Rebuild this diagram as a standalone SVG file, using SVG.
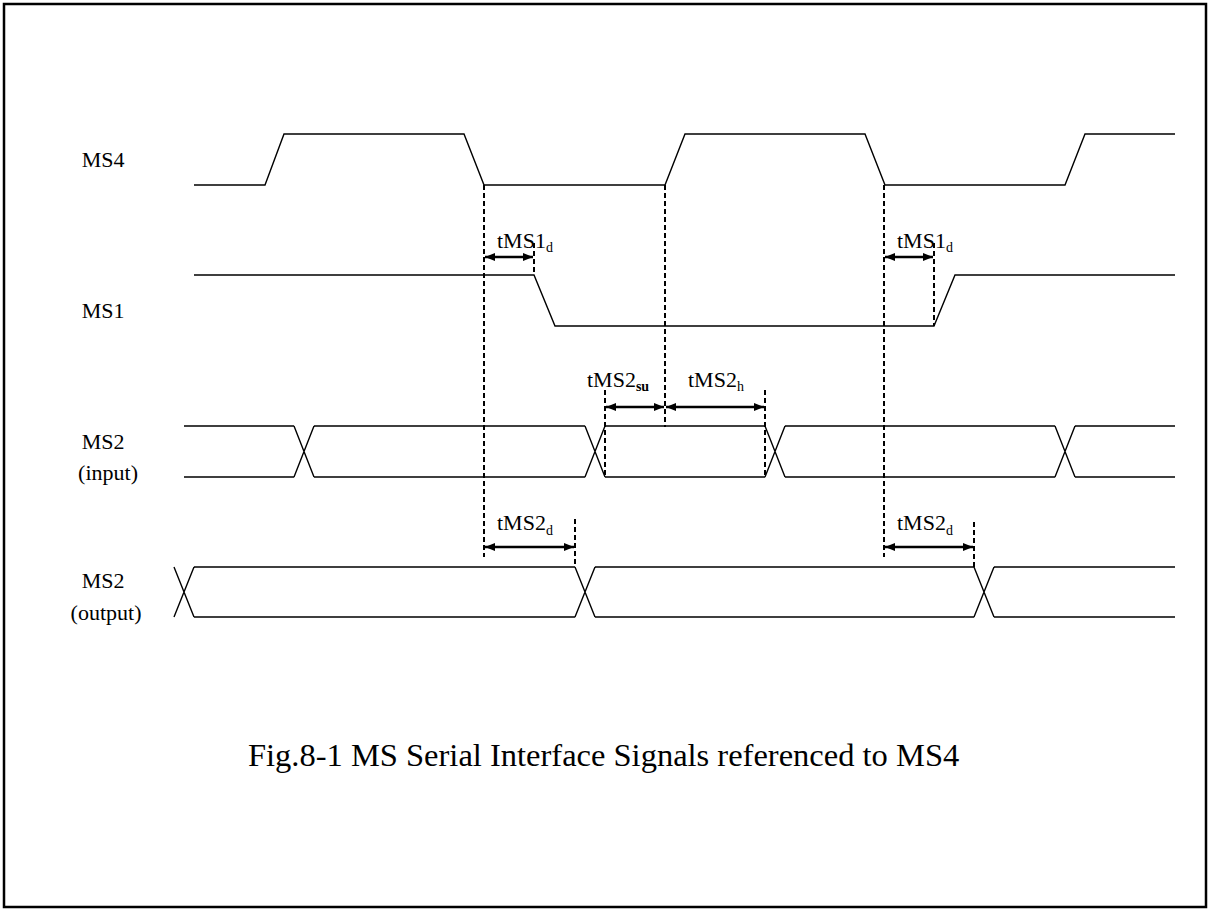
<svg xmlns="http://www.w3.org/2000/svg" width="1208" height="909" viewBox="0 0 1208 909">
<style>
.sig{fill:none;stroke:#000;stroke-width:1.4;stroke-linejoin:miter}
.dash{fill:none;stroke:#000;stroke-width:2;stroke-dasharray:5,3}
.arr{fill:none;stroke:#000;stroke-width:2.5}
.lbl{font-family:"Liberation Serif","Times New Roman",serif;font-size:22px;fill:#000}
.sub{font-size:14px}
.cap{font-family:"Liberation Serif","Times New Roman",serif;font-size:32.5px;fill:#000}
</style>
<defs>
<marker id="ah" viewBox="0 0 10 8" refX="10" refY="4" markerWidth="10" markerHeight="8" markerUnits="userSpaceOnUse" orient="auto-start-reverse">
<path d="M0,0 L10,4 L0,8 Z" fill="#000"/>
</marker>
</defs>
<rect x="4" y="4" width="1202" height="903" fill="#fff" stroke="#000" stroke-width="2.5"/>

<g id="MS4">
<text class="lbl" x="124.5" y="167" text-anchor="end">MS4</text>
<polyline class="sig" points="194,185 265,185 284,134 464,134 484,185 665,185 685,134 865,134 885,185 1065,185 1085,134 1175,134"/>
</g>

<g id="MS1">
<text class="lbl" x="124.5" y="318" text-anchor="end">MS1</text>
<polyline class="sig" points="194,275 534,275 555,326 934,326 955,275 1175,275"/>
</g>

<g id="MS2in">
<text class="lbl" x="124.5" y="449" text-anchor="end">MS2</text>
<text class="lbl" x="138" y="480" text-anchor="end">(input)</text>
<path class="sig" d="M184,426H294M314,426H585M605,426H765M785,426H1055M1075,426H1175M184,477H294M314,477H585M605,477H765M785,477H1055M1075,477H1175M294,426L314,477M294,477L314,426M585,426L605,477M585,477L605,426M765,426L785,477M765,477L785,426M1055,426L1075,477M1055,477L1075,426"/>
</g>

<g id="MS2out">
<text class="lbl" x="124.5" y="588" text-anchor="end">MS2</text>
<text class="lbl" x="141.5" y="620" text-anchor="end">(output)</text>
<path class="sig" d="M194,567H575M595,567H974M994,567H1175M194,617H575M595,617H974M994,617H1175M174,567L194,617M174,617L194,567M575,567L595,617M575,617L595,567M974,567L994,617M974,617L994,567"/>
</g>

<g id="connectors">
<line class="dash" x1="484" y1="185" x2="484" y2="557"/>
<line class="dash" x1="884" y1="185" x2="884" y2="557"/>
<line class="dash" x1="665" y1="185" x2="665" y2="427"/>
<line class="dash" x1="534" y1="243" x2="534" y2="275"/>
<line class="dash" x1="934" y1="243" x2="934" y2="326"/>
<line class="dash" x1="605" y1="390" x2="605" y2="477"/>
<line class="dash" x1="765" y1="390" x2="765" y2="477"/>
<line class="dash" x1="575" y1="519" x2="575" y2="567"/>
<line class="dash" x1="974" y1="522" x2="974" y2="567"/>
<line class="arr" x1="485" y1="257" x2="533" y2="257" marker-start="url(#ah)" marker-end="url(#ah)"/>
<line class="arr" x1="885" y1="257" x2="933" y2="257" marker-start="url(#ah)" marker-end="url(#ah)"/>
<line class="arr" x1="606" y1="407" x2="664" y2="407" marker-start="url(#ah)" marker-end="url(#ah)"/>
<line class="arr" x1="666" y1="407" x2="764" y2="407" marker-start="url(#ah)" marker-end="url(#ah)"/>
<line class="arr" x1="485" y1="547" x2="574" y2="547" marker-start="url(#ah)" marker-end="url(#ah)"/>
<line class="arr" x1="885" y1="547" x2="973" y2="547" marker-start="url(#ah)" marker-end="url(#ah)"/>
</g>

<g id="labels">
<text class="lbl" x="497" y="248">tMS1<tspan class="sub" dy="4">d</tspan></text>
<text class="lbl" x="897" y="248">tMS1<tspan class="sub" dy="4">d</tspan></text>
<text class="lbl" x="587" y="387">tMS2<tspan class="sub" dy="4" font-weight="bold">su</tspan></text>
<text class="lbl" x="688" y="387">tMS2<tspan class="sub" dy="4">h</tspan></text>
<text class="lbl" x="497" y="530">tMS2<tspan class="sub" dy="5">d</tspan></text>
<text class="lbl" x="897" y="530">tMS2<tspan class="sub" dy="5">d</tspan></text>
</g>

<text id="caption" class="cap" x="248" y="766">Fig.8-1 MS Serial Interface Signals referenced to MS4</text>
</svg>
